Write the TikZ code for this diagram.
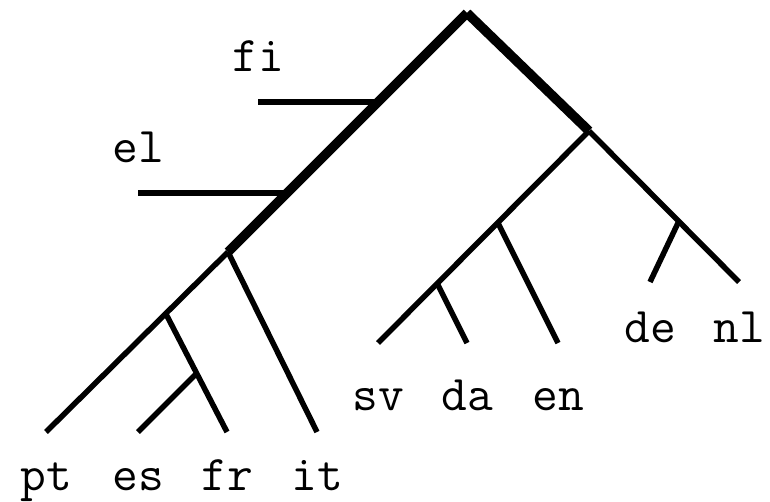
\documentclass[tikz,border=0pt]{standalone}
\begin{document}
\begin{tikzpicture}[x=1pt,y=-1pt,
    branch/.style={line width=5.5pt},
    trunk/.style={line width=9.5pt},
    lang/.style={font={\fontsize{50}{60}\selectfont\ttfamily},anchor=base,inner sep=0pt}
  ]
    \useasboundingbox (0,0) rectangle (770,502);
    % inner points of the tree
    \coordinate (root) at (467,13);
    \coordinate (rom) at (228,252);
    \coordinate (germ) at (589,131);
    \coordinate (jfi) at (378,102);
    \coordinate (jel) at (287,193);
    \coordinate (jfr) at (166,314);
    \coordinate (jes) at (197,373);
    \coordinate (jen) at (498,223);
    \coordinate (jda) at (438,285);
    \coordinate (jde) at (678,223);
    % leaf ends
    \coordinate (fi) at (258,102);
    \coordinate (el) at (138,193);
    \coordinate (pt) at (46,432);
    \coordinate (es) at (138,432);
    \coordinate (fr) at (227,432);
    \coordinate (it) at (317,432);
    \coordinate (sv) at (378,343);
    \coordinate (da) at (467,343);
    \coordinate (en) at (558,343);
    \coordinate (de) at (650,282);
    \coordinate (nl) at (739,282);
    % branches
    \draw[branch] (jfi) -- (fi);
    \draw[branch] (jel) -- (el);
    \draw[branch] (rom) -- (pt);
    \draw[branch] (rom) -- (it);
    \draw[branch] (jfr) -- (fr);
    \draw[branch] (jes) -- (es);
    \draw[branch] (germ) -- (sv);
    \draw[branch] (germ) -- (nl);
    \draw[branch] (jen) -- (en);
    \draw[branch] (jda) -- (da);
    \draw[branch] (jde) -- (de);
    \draw[trunk] (root) -- (rom);
    \draw[trunk] (root) -- (germ);
    % labels
    \node[lang] (fil) at (fi) [yshift=30pt] {fi};
    \node[lang] (ell) at (el) [yshift=30pt] {el};
    \node[lang] (ptl) at (pt) [yshift=-58pt] {pt};
    \node[lang] (esl) at (es) [yshift=-58pt] {es};
    \node[lang] (frl) at (fr) [yshift=-58pt] {fr};
    \node[lang] (itl) at (it) [yshift=-58pt] {it};
    \node[lang] (svl) at (sv) [yshift=-67pt] {sv};
    \node[lang] (dal) at (da) [yshift=-67pt] {da};
    \node[lang] (enl) at (en) [yshift=-67pt] {en};
    \node[lang] (del) at (de) [yshift=-60pt] {de};
    \node[lang] (nll) at (nl) [yshift=-60pt] {nl};
\end{tikzpicture}
\end{document}
